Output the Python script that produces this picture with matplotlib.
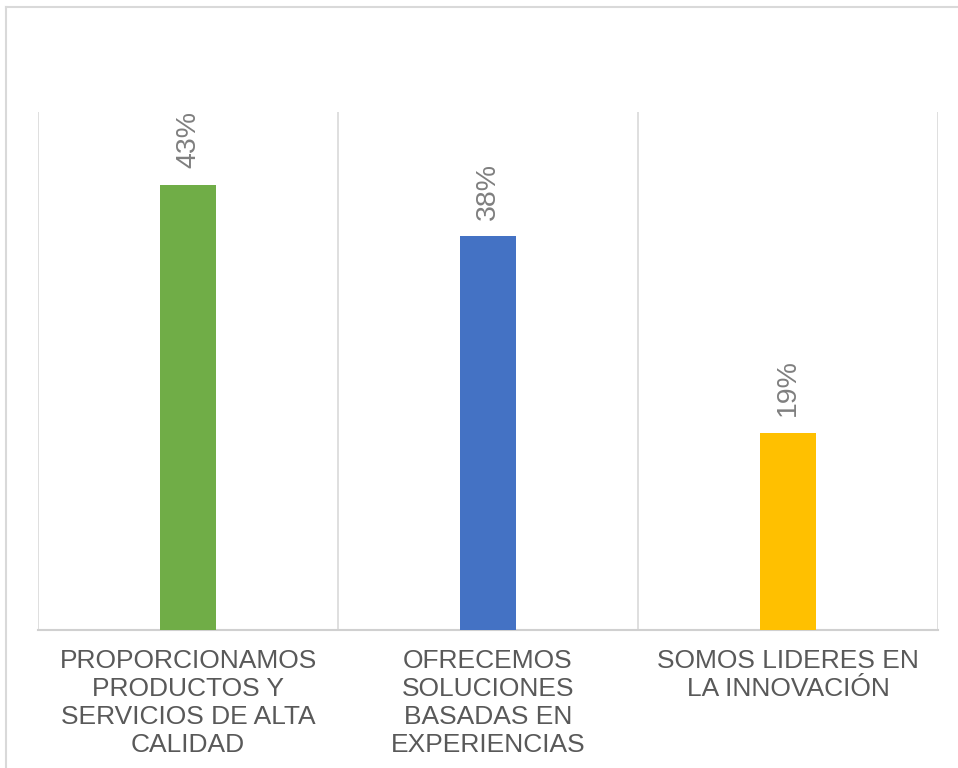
import matplotlib.pyplot as plt
from matplotlib.lines import Line2D

# data
categories = [
    "PROPORCIONAMOS\nPRODUCTOS Y\nSERVICIOS DE ALTA\nCALIDAD",
    "OFRECEMOS\nSOLUCIONES\nBASADAS EN\nEXPERIENCIAS",
    "SOMOS LIDERES EN\nLA INNOVACIÓN",
]
values = [0.43, 0.38, 0.19]
colors = ["#70ad47", "#4472c4", "#ffc000"]

plt.rcParams['font.family'] = ['Liberation Sans', 'DejaVu Sans']

fig = plt.figure(figsize=(9.58, 7.68), dpi=100)
ax = fig.add_axes([38 / 958, 1 - 630 / 768, 900 / 958, 518 / 768])

x = list(range(len(values)))
bars = ax.bar(x, values, width=0.187, color=colors, zorder=3)

# data labels, rotated like the original
for rect, v in zip(bars, values):
    ax.annotate(f"{v:.0%}", (rect.get_x() + rect.get_width() / 2, rect.get_height()),
                xytext=(0, 12), textcoords="offset points", rotation=90,
                ha="center", va="bottom", fontsize=20.5, color="#7f7f7f")

ax.set_xlim(-0.5, len(values) - 0.5)
ax.set_ylim(0, 0.5)

# vertical separators between categories
for b in [i - 0.5 for i in range(len(values) + 1)]:
    ax.axvline(b, color="#d9d9d9", lw=1.2, zorder=1)

ax.set_xticks(x)
ax.set_xticklabels(categories, fontsize=19, color="#595959", linespacing=1.2)
ax.tick_params(axis="x", length=0, pad=14)
ax.set_yticks([])
for side in ["top", "left", "right"]:
    ax.spines[side].set_visible(False)
ax.spines["bottom"].set_color("#d0d0d0")
ax.spines["bottom"].set_linewidth(1.5)

# outer chart border (only top and left edges are inside the picture)
fig.add_artist(Line2D([6 / 958, 1], [1 - 7 / 768, 1 - 7 / 768], color="#d9d9d9", lw=1.5))
fig.add_artist(Line2D([6 / 958, 6 / 958], [0, 1 - 7 / 768], color="#d9d9d9", lw=1.5))

fig.savefig("out.png", dpi=100)
